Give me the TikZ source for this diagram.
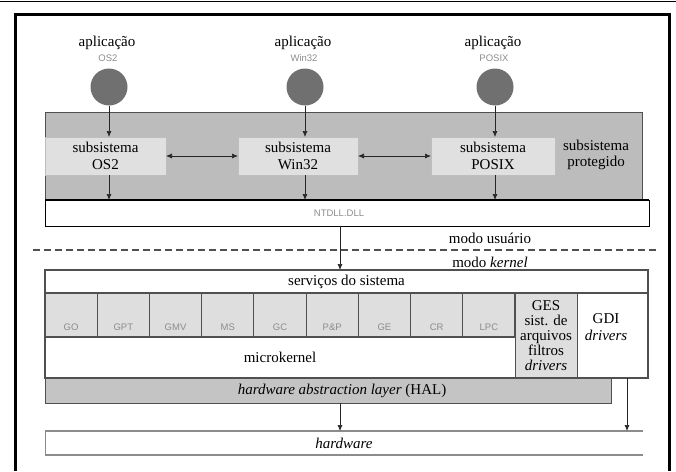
\documentclass[tikz,border=0pt]{standalone}
\usepackage{fontspec}
\setmainfont{LiberationSerif}[Extension=.ttf, UprightFont=*-Regular, ItalicFont=*-Italic, BoldFont=*-Bold, BoldItalicFont=*-BoldItalic]
\setsansfont{Liberation Sans}
\newfontfamily\arl{Liberation Sans}
\usetikzlibrary{arrows.meta}
\definecolor{regiongray}{RGB}{188,188,188}
\definecolor{boxgray}{RGB}{224,224,224}
\definecolor{circgray}{RGB}{112,112,112}
\definecolor{halgray}{RGB}{196,196,196}
\definecolor{cellgray}{RGB}{222,222,222}
\definecolor{linegray}{RGB}{80,80,80}
\definecolor{labelgray}{RGB}{140,140,140}
\definecolor{hwgray}{RGB}{140,140,140}
\tikzset{
  txt/.style={font=\rmfamily\fontsize{15pt}{16.5pt}\selectfont, inner sep=0pt, align=center},
  small/.style={font=\arl\fontsize{9.5pt}{10pt}\selectfont, text=labelgray, inner sep=0pt},
  blk/.style={anchor=north west, inner sep=0pt, outer sep=0pt, font=\rmfamily\fontsize{15pt}{16.5pt}\selectfont, align=center},
  arr/.style={draw=black!85, line width=0.7pt, -{Latex[length=6pt,width=5pt]}},
  darr/.style={draw=black!85, line width=0.7pt, {Latex[length=6pt,width=5pt]}-{Latex[length=6pt,width=5pt]}},
  app/.style={circle, fill=circgray, minimum size=37pt, inner sep=0pt, outer sep=0pt},
  subbox/.style={blk, fill=boxgray, draw=boxgray!85!black, line width=0.4pt, minimum width=121pt, minimum height=38pt},
  cellbox/.style={blk, fill=cellgray, draw=linegray, line width=1.2pt, minimum width=52.22pt, minimum height=44pt},
  dashline/.style={draw=linegray, line width=2pt, dash pattern=on 7pt off 4pt},
}
\begin{document}
\begin{tikzpicture}[x=1pt,y=-1pt]
\useasboundingbox (0,0) rectangle (676,471);
% frame
\draw[line width=0.8pt] (0,1.5) -- (676,1.5);
\draw[line width=3pt] (15,471) -- (15,14) -- (669,14) -- (669,471);

% protected subsystem region
\node[blk, draw=linegray, fill=regiongray, line width=0.6pt, minimum width=597pt, minimum height=88pt] (prot) at (45,112) {};
\node[txt] (protl) at (596,155) {subsistema\\protegido};

% applications
\node[txt] (a1) at (107,43) {aplicação};
\node[txt] (a2) at (303,43) {aplicação};
\node[txt] (a3) at (493,43) {aplicação};
\node[small] (a1l) at (108,58) {OS2};
\node[small] (a2l) at (304,58) {Win32};
\node[small] (a3l) at (494,58) {POSIX};
\node[app] (c1) at (109,87) {};
\node[app] (c2) at (305,87) {};
\node[app] (c3) at (495,87) {};

% subsystems
\node[subbox] (s1) at (45,137) {subsistema\\OS2};
\node[subbox, minimum width=120pt] (s2) at (238,137) {subsistema\\Win32};
\node[subbox, minimum width=124pt] (s3) at (431,137) {subsistema\\POSIX};

% NTDLL
\node[blk, draw=black, line width=1pt, fill=white, minimum width=604pt, minimum height=26pt] (nt) at (45,200) {};
\draw[line width=1.8pt] (nt.north west) -- (nt.north east);
\node[small] (ntl) at (339,213) {NTDLL.DLL};

% arrows user mode
\draw[arr] (c1.south) -- (c1.south |- s1.north);
\draw[arr] (c2.south) -- (c2.south |- s2.north);
\draw[arr] (c3.south) -- (c3.south |- s3.north);
\draw[arr] (s1.south -| c1) -- (nt.north -| c1);
\draw[arr] (s2.south -| c2) -- (nt.north -| c2);
\draw[arr] (s3.south -| c3) -- (nt.north -| c3);
\draw[darr] (s1.east) -- (s2.west);
\draw[darr] (s2.east) -- (s3.west);

% mode separator
\node[txt] (mu) at (490,238) {modo usuário};
\coordinate (dl) at (33,250);
\coordinate (dr) at (656,250);
\draw[dashline] (dl) -- (dr);
\node[txt] (mk) at (490,262) {modo \textit{kernel}};

% kernel block
\node[blk, draw=linegray, line width=1.2pt, fill=white, minimum width=603pt, minimum height=108pt] (kbox) at (45,270) {};
\node[blk, minimum width=603pt, minimum height=23pt] (serv) at (45,270) {serviços do sistema};
\draw[linegray, line width=1.2pt] (serv.south west) -- (serv.south east);

\foreach \n [count=\i from 0] in {GO,GPT,GMV,MS,GC,P\&P,GE,CR,LPC} {
  \node[cellbox] (cell\i) at ({45+52.22*\i},293) {};
  \node[small] (cl\i) at ({71.11+52.22*\i},327) {\n};
}
\node[blk, minimum width=470pt, minimum height=41pt] (mic) at (45,337) {microkernel};
\node[blk, fill=cellgray, draw=linegray, line width=0.6pt, minimum width=62pt, minimum height=85pt, font=\rmfamily\fontsize{15pt}{15pt}\selectfont] (ges) at (515,293) {GES\\sist. de\\arquivos\\filtros\\\textit{drivers}};
\node[blk, minimum width=71pt, minimum height=85pt] (gdi) at (577,293) {};
\node[txt] (gdil) at (606,327) {GDI\\\textit{drivers}};
\draw[draw=linegray, line width=1.2pt] (kbox.north west) rectangle (kbox.south east);

% HAL
\node[blk, fill=halgray, draw=linegray, line width=0.8pt, minimum width=566pt, minimum height=25pt] (hal) at (45,378) {};
\node[txt] (hall) at (342,391) {\textit{hardware abstraction layer} (HAL)};

% hardware
\node[blk, fill=white, minimum width=598pt, minimum height=24pt] (hw) at (45,431) {\textit{hardware}};
\draw[hwgray, line width=2pt] (hw.north west) -- (hw.north east);
\draw[hwgray, line width=2pt] (hw.south west) -- (hw.south east);
\draw[hwgray, line width=0.6pt] (hw.north west) -- (hw.south west);

\coordinate (k) at (340,0);
\coordinate (g) at (627,0);
\draw[arr] (nt.south -| k) -- (serv.north -| k);
\draw[arr] (hal.south -| k) -- (hw.north -| k);
\draw[arr] (gdi.south -| g) -- (hw.north -| g);
\end{tikzpicture}
\end{document}
